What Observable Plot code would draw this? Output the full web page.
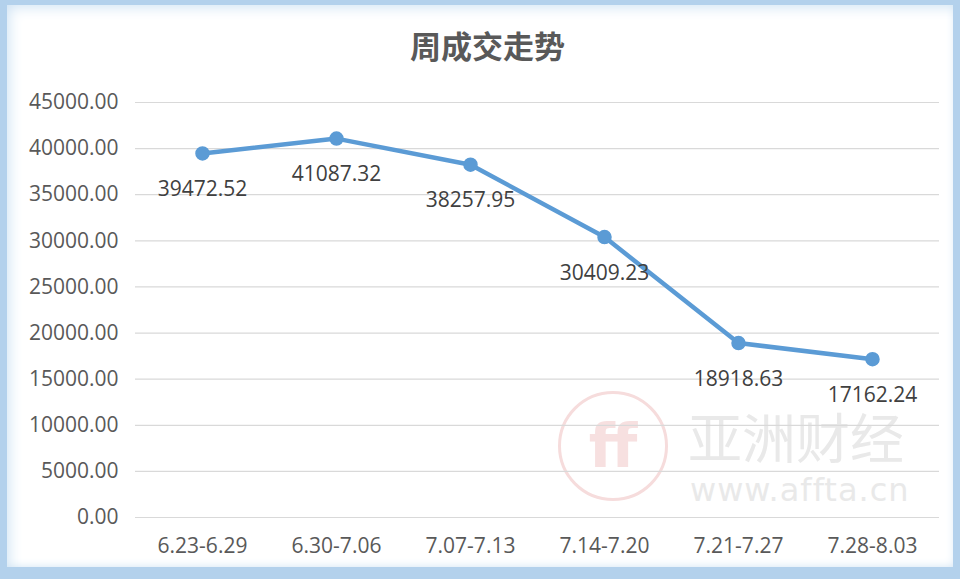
<!DOCTYPE html>
<html>
<head>
<meta charset="utf-8">
<script src="https://cdn.jsdelivr.net/npm/d3@7"></script>
<script src="https://cdn.jsdelivr.net/npm/@observablehq/plot@0.6"></script>
<style>
  html, body { margin: 0; padding: 0; background: #ffffff; }
  #frame { position: relative; width: 960px; height: 579px; overflow: hidden; background: #b3d1ec; }
  #inner { position: absolute; left: 7px; top: 5px; width: 946px; height: 562px; background: #ffffff;
           box-shadow: inset 10px 10px 14px -8px #cfe3f4, inset -4px -6px 10px -6px #cfe3f4; }
  #title { position: absolute; top: 22px; left: 0; width: 975px; text-align: center;
           font-family: "Noto Sans CJK SC", sans-serif; font-size: 31px; font-weight: 700; color: #595959; }
  .wm { position: absolute; font-family: "Noto Sans CJK SC", sans-serif; color: #e9e9e9; white-space: nowrap; line-height: 1; }
  #logo { position: absolute; left: 558px; top: 391px; width: 104px; height: 104px; border-radius: 50%;
          border: 3px solid #f6dcdc; text-align: center; font: 700 60px/104px "DejaVu Sans", sans-serif; color: #f7e0e0; }
  #chart { position: absolute; left: 0; top: 0; }
</style>
</head>
<body>
<div id="frame">
  <div id="inner"></div>
  <div id="logo">ﬀ</div>
  <div class="wm" style="left:688px; top:409px; font-size:54px;">亚洲财经</div>
  <div class="wm" style="left:690px; top:474px; font-size:32px; font-family:'DejaVu Sans',sans-serif; letter-spacing:1px;">www.affta.cn</div>
  <div id="title">周成交走势</div>
  <div id="chart"></div>
</div>
<script>
const weeks = ["6.23-6.29", "6.30-7.06", "7.07-7.13", "7.14-7.20", "7.21-7.27", "7.28-8.03"];
const volumes = [39472.52, 41087.32, 38257.95, 30409.23, 18918.63, 17162.24];
const yTicks = [0, 5000, 10000, 15000, 20000, 25000, 30000, 35000, 40000, 45000];

const data = weeks.map((w, i) => ({week: w, value: volumes[i]}));
const fmt = d3.format(".2f");

const chart = Plot.plot({
  width: 960,
  height: 579,
  marginTop: 102,
  marginBottom: 62,
  marginLeft: 135,
  marginRight: 21,
  style: {background: "transparent", fontFamily: "'Open Sans', sans-serif", fontSize: "21px", color: "#595959"},
  x: {type: "point", domain: weeks, padding: 0.5, label: null},
  y: {domain: [0, 45000], label: null},
  marks: [
    Plot.ruleY(yTicks, {stroke: "#d9d9d9", strokeWidth: 1.2}),
    Plot.axisY({ticks: yTicks, tickFormat: fmt, tickSize: 0, tickPadding: 17, fill: "#595959", fontSize: 21}),
    Plot.axisX({tickSize: 0, tickPadding: 21, fill: "#595959", fontSize: 21}),
    Plot.line(data, {x: "week", y: "value", stroke: "#5b9bd5", strokeWidth: 4.5, curve: "linear"}),
    Plot.dot(data, {x: "week", y: "value", r: 6.5, fill: "#5b9bd5", stroke: "#5b9bd5"}),
    Plot.text(data, {x: "week", y: "value", text: d => fmt(d.value), dy: 36, fill: "#404040", fontSize: 21, textAnchor: "middle"})
  ]
});
document.getElementById("chart").appendChild(chart);
</script>
</body>
</html>
